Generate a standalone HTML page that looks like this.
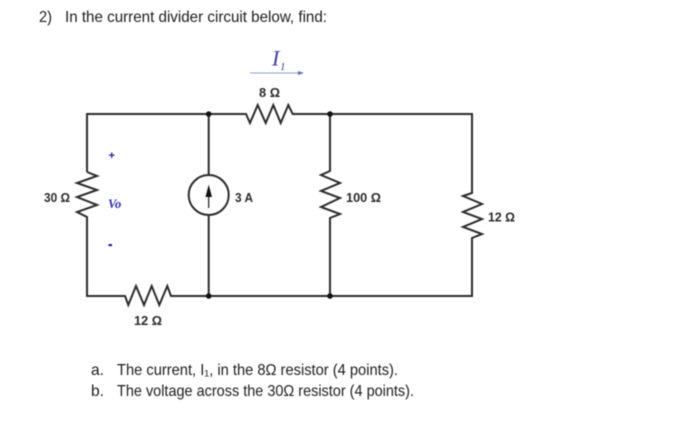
<!DOCTYPE html>
<html><head><meta charset="utf-8"><style>
html,body{margin:0;padding:0;background:#fff}
svg{display:block;filter:blur(.45px)}
.t{font-family:"Liberation Sans",sans-serif;font-size:16px;fill:#1c1c1c}
.l{font-family:"Liberation Sans",sans-serif;font-size:13px;font-weight:bold;fill:#2a2a2a}
.w{fill:none;stroke:#2b2b2b;stroke-width:2;stroke-linejoin:miter}
</style></head><body>
<svg width="700" height="429" viewBox="0 0 700 429" xmlns="http://www.w3.org/2000/svg">
<rect width="700" height="429" fill="#fff"/>
<text class="t" x="39" y="22" textLength="13" lengthAdjust="spacingAndGlyphs">2)</text>
<text class="t" x="65" y="22" textLength="262" lengthAdjust="spacingAndGlyphs">In the current divider circuit below, find:</text>

<path class="w" d="M87 172V114H246L250 123L257.700 105L265.700 123L273.300 105L280.700 123L288.300 105L292.700 114H472V193L463 196L482 204L463 212L482 219L463 227L482 234L472 238V296H171L167.300 286L159.300 305L151.700 286L144 305L136 286L128.300 305L125 296H87V217L77 212L97 205L77 197L97 190L77 183L97 176L87 172"/>
<path class="w" d="M330 114V171L321 175L340 183L321 191L340 198L321 207L340 214L330 218V296"/>
<path class="w" d="M208.700 114V175M208.700 215V296"/>
<circle class="w" cx="208.700" cy="195" r="20"/>
<path d="M208.700 208V190" stroke="#2b2b2b" stroke-width="1.300" fill="none"/>
<path d="M208.700 184.500L205.500 197H212Z" fill="#111"/>
<circle cx="208.700" cy="114" r="2.800" fill="#111"/>
<circle cx="330" cy="114" r="2.800" fill="#111"/>
<circle cx="208.700" cy="296" r="2.800" fill="#111"/>
<circle cx="330" cy="296" r="2.800" fill="#111"/>

<path d="M250 73H300" stroke="#8a9cc8" stroke-width="1"/>
<path d="M304 73L298 71V75Z" fill="#5a70b0"/>
<text x="272" y="65.500" font-family="Liberation Serif,serif" font-style="italic" font-size="22" fill="#3c3ca8">I</text>
<text x="280" y="70" font-family="Liberation Serif,serif" font-style="italic" font-size="11" fill="#3c3ca8">1</text>

<text class="l" x="259" y="97" textLength="21" lengthAdjust="spacingAndGlyphs">8 Ω</text>
<text class="l" x="44" y="202" textLength="26" lengthAdjust="spacingAndGlyphs">30 Ω</text>
<text class="l" x="235" y="202" textLength="18" lengthAdjust="spacingAndGlyphs">3 A</text>
<text class="l" x="346" y="202" textLength="35" lengthAdjust="spacingAndGlyphs">100 Ω</text>
<text class="l" x="488" y="221.500" textLength="27" lengthAdjust="spacingAndGlyphs">12 Ω</text>
<text class="l" x="134" y="325" textLength="28" lengthAdjust="spacingAndGlyphs">12 Ω</text>

<text x="108" y="208" font-family="Liberation Serif,serif" font-style="italic" font-weight="bold" font-size="12.500" fill="#2a2aa8">Vo</text>
<text x="108.500" y="159" font-family="Liberation Sans,sans-serif" font-weight="bold" font-size="11" fill="#22229a">+</text>
<rect x="108.500" y="244" width="3.500" height="2.200" fill="#22229a"/>

<text class="t" x="91" y="375" textLength="13" lengthAdjust="spacingAndGlyphs">a.</text>
<text class="t" x="117" y="375" textLength="281" lengthAdjust="spacingAndGlyphs">The current, I₁, in the 8Ω resistor (4 points).</text>
<text class="t" x="91" y="396" textLength="13" lengthAdjust="spacingAndGlyphs">b.</text>
<text class="t" x="117" y="396" textLength="297" lengthAdjust="spacingAndGlyphs">The voltage across the 30Ω resistor (4 points).</text>
</svg>
</body></html>
